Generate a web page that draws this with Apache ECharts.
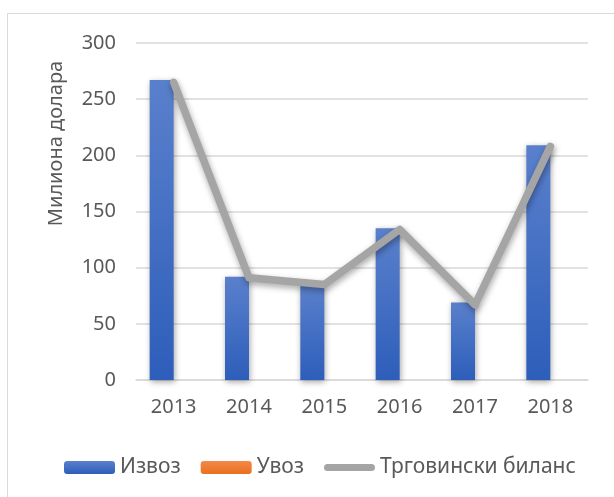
<!DOCTYPE html>
<html>
<head>
<meta charset="utf-8">
<script src="https://cdn.jsdelivr.net/npm/echarts@6/dist/echarts.min.js"></script>
<style>
  html, body { margin: 0; padding: 0; background: #fff; }
  #chart { width: 614px; height: 497px; }
</style>
</head>
<body>
<div id="chart"></div>
<script>
// податоци
var years = ["2013", "2014", "2015", "2016", "2017", "2018"];
var izvoz = [267, 92, 85, 135, 69, 209];
var uvoz = [0, 0, 0, 0, 0, 0];
var bilans = [265, 91, 85, 134, 67, 208];
var yTicks = [0, 50, 100, 150, 200, 250, 300];

var font = "Noto Sans";
var txt = "#595959";
var grey = "#a5a5a5";

// капсула за легендата на линијата (прозирни точки го држат полето 51x13)
var lineIcon = "path://M0,0 M51,13 M3.5,3 H47.5 A3.5,3.5 0 0 1 47.5,10 H3.5 A3.5,3.5 0 0 1 3.5,3 Z";

var myChart = echarts.init(document.getElementById("chart"));
var option = {
  backgroundColor: "#fff",
  animation: false,
  textStyle: { fontFamily: font },
  graphic: [{
    type: "rect",
    shape: { x: 7.5, y: 13.5, width: 620, height: 500 },
    style: { fill: "none", stroke: "#d9d9d9", lineWidth: 1 },
    silent: true
  }],
  legend: {
    left: 59,
    top: 452,
    itemWidth: 51,
    itemHeight: 13,
    itemGap: 20,
    textStyle: { fontFamily: font, fontSize: 21, color: txt },
    data: [
      { name: "Извоз" },
      { name: "Увоз" },
      { name: "Трговински биланс", icon: lineIcon, itemStyle: { color: grey } }
    ]
  },
  grid: { left: 136, right: 26, top: 43, bottom: 117 },
  xAxis: {
    type: "category",
    data: years,
    axisLine: { lineStyle: { color: "#d9d9d9", width: 1.5 } },
    axisTick: { show: false },
    axisLabel: { fontFamily: font, fontSize: 20, color: txt, margin: 17 }
  },
  yAxis: {
    type: "value",
    min: yTicks[0],
    max: yTicks[yTicks.length - 1],
    interval: 50,
    name: "Милиона долара",
    nameLocation: "middle",
    nameGap: 70,
    nameTextStyle: { fontFamily: font, fontSize: 20, color: txt, padding: [0, 0, 0, 136] },
    axisLine: { show: false },
    axisTick: { show: false },
    splitLine: { lineStyle: { color: "#d9d9d9", width: 1.5 } },
    axisLabel: { fontFamily: font, fontSize: 20, color: txt, margin: 20 }
  },
  series: [
    {
      name: "Извоз",
      type: "bar",
      barWidth: 24,
      barGap: "0%",
      data: izvoz,
      itemStyle: {
        color: new echarts.graphic.LinearGradient(0, 0, 0, 1, [
          { offset: 0, color: "#5a80cc" },
          { offset: 1, color: "#2d5eba" }
        ]),
        shadowBlur: 6,
        shadowColor: "rgba(0,0,0,0.35)",
        shadowOffsetX: 1,
        shadowOffsetY: 2
      }
    },
    {
      name: "Увоз",
      type: "bar",
      barWidth: 24,
      data: uvoz,
      itemStyle: {
        color: new echarts.graphic.LinearGradient(0, 0, 0, 1, [
          { offset: 0, color: "#f4894a" },
          { offset: 1, color: "#e8701e" }
        ])
      }
    },
    {
      name: "Трговински биланс",
      type: "line",
      data: bilans,
      symbol: "none",
      z: 5,
      itemStyle: { color: grey },
      lineStyle: {
        color: grey,
        width: 7.5,
        cap: "round",
        join: "round",
        shadowBlur: 6,
        shadowColor: "rgba(0,0,0,0.35)",
        shadowOffsetX: 1,
        shadowOffsetY: 3
      }
    }
  ]
};
myChart.setOption(option);
</script>
</body>
</html>
